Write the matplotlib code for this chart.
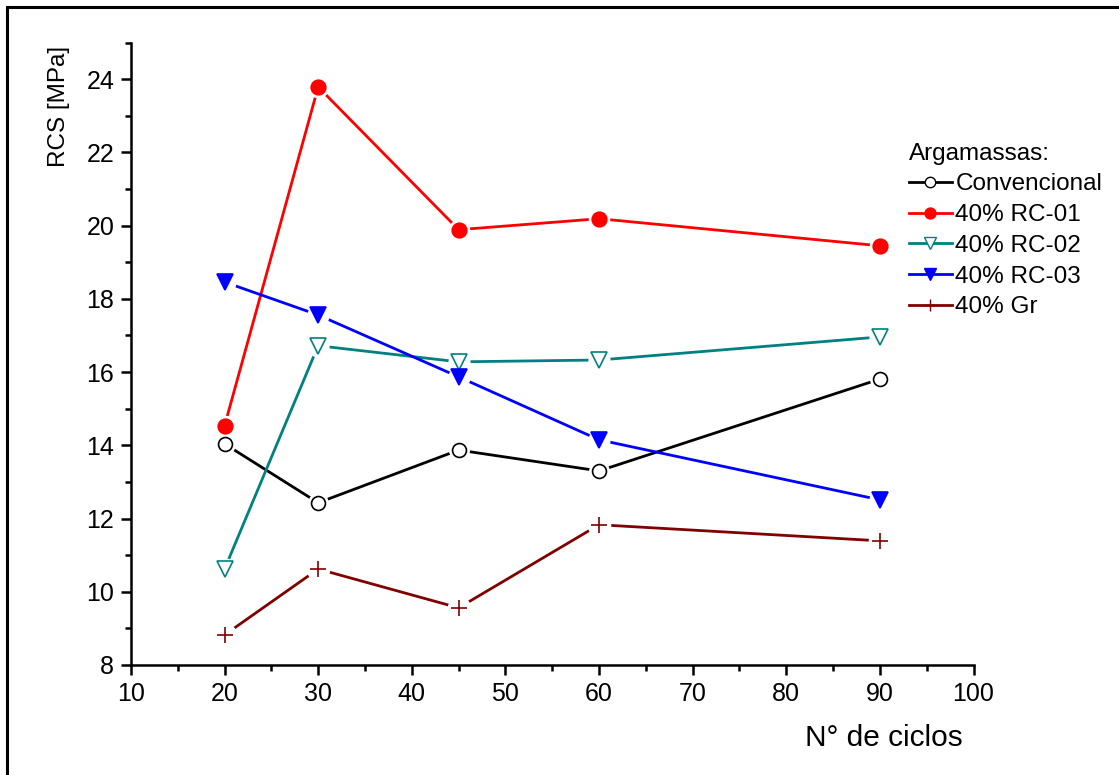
import matplotlib
matplotlib.use("Agg")
import matplotlib.pyplot as plt
from matplotlib.patches import Rectangle

plt.rcParams['font.family'] = ['Liberation Sans', 'DejaVu Sans']

ciclos = [20, 30, 45, 60, 90]
convencional = [14.04, 12.43, 13.87, 13.30, 15.81]
rc01 = [14.53, 23.79, 19.89, 20.19, 19.45]
rc02 = [10.62, 16.72, 16.28, 16.33, 16.96]
rc03 = [18.46, 17.56, 15.87, 14.15, 12.51]
gr = [8.82, 10.62, 9.56, 11.83, 11.39]

series = [
    ('Convencional', convencional, 'black', 'o', 'white', 10),
    ('40% RC-01', rc01, '#ff0000', 'o', '#ff0000', 10.5),
    ('40% RC-02', rc02, '#008080', 'v', 'white', 11),
    ('40% RC-03', rc03, '#0000ff', 'v', '#0000ff', 11),
    ('40% Gr', gr, '#800000', '+', '#800000', 12),
]

fig = plt.figure(figsize=(11.19, 7.75), dpi=100)
ax = fig.add_axes([0.117, 0.142, 0.753, 0.803])

for label, vals, color, marker, face, ms in series:
    ax.plot(ciclos, vals, color=color, lw=2.0, zorder=2)
    # white halo gives the small gap between line and marker
    ax.plot(ciclos, vals, linestyle='none', marker='o', ms=ms + 4,
            mfc='white', mec='white', zorder=3)
    ax.plot(ciclos, vals, linestyle='none', marker=marker, ms=ms,
            mfc=face, mec=color, mew=1.2, zorder=4)
    ax.plot([], [], color=color, lw=2.0, marker=marker, ms=ms * 0.75,
            mfc=face, mec=color, mew=1.0, label=label)

ax.set_xlim(10, 100)
ax.set_ylim(8, 25)
ax.set_xticks(range(10, 101, 10))
ax.set_xticks(range(15, 100, 10), minor=True)
ax.set_yticks(range(8, 25, 2))
ax.set_yticks(range(9, 26, 2), minor=True)
ax.spines['top'].set_visible(False)
ax.spines['right'].set_visible(False)
for s in ('left', 'bottom'):
    ax.spines[s].set_linewidth(1.8)
ax.tick_params(which='major', direction='out', length=7, width=1.8, labelsize=18, pad=5)
ax.tick_params(which='minor', direction='out', length=4, width=1.8)

ax.set_xlabel('N\u00b0 de ciclos', fontsize=21.5)
ax.xaxis.set_label_coords(0.894, -0.095)
ax.set_ylabel('RCS [MPa]', fontsize=17.5)
ax.yaxis.set_label_coords(-0.072, 0.897)

leg = ax.legend(title='Argamassas:', loc='upper left', bbox_to_anchor=(0.912, 0.855),
                frameon=False, fontsize=17.5, title_fontsize=17.5, handlelength=1.75,
                handletextpad=0.15, labelspacing=0.36, alignment='left',
                borderaxespad=0)

fig.patches.append(Rectangle((7 / 1119, -0.05), 1.1, 1 - 7 / 775 + 0.05,
                             transform=fig.transFigure, fill=False,
                             edgecolor='black', lw=2.2))

fig.savefig('out.png', dpi=100)
